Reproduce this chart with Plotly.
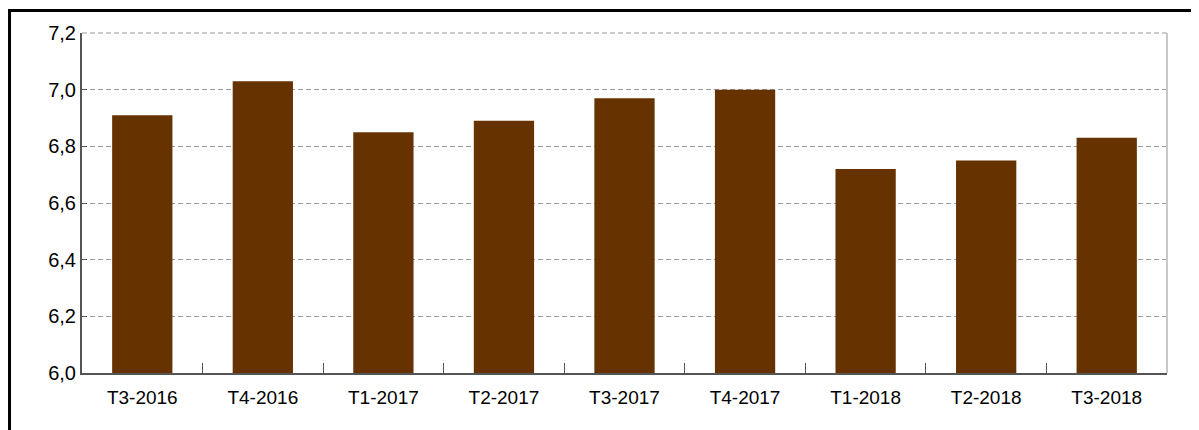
import plotly.graph_objects as go

trimestres = ["T3-2016", "T4-2016", "T1-2017", "T2-2017", "T3-2017",
              "T4-2017", "T1-2018", "T2-2018", "T3-2018"]
valores = [6.91, 7.03, 6.85, 6.89, 6.97, 7.00, 6.72, 6.75, 6.83]

BAR_COLOR = "#663300"
GRID_COLOR = "#9a9a9a"

fig = go.Figure()
fig.add_trace(go.Bar(
    x=trimestres,
    y=valores,
    marker=dict(color=BAR_COLOR, line=dict(width=0)),
    width=0.5,
))

# la página html añade 8px de margen, así que la figura es 8px más pequeña
fig.update_layout(
    width=1191,
    height=422,
    margin=dict(l=74, r=32, t=25, b=57),
    paper_bgcolor="white",
    plot_bgcolor="white",
    separators=",.",
    showlegend=False,
    font=dict(family="Liberation Sans, Arial, sans-serif", size=19, color="black"),
)

fig.update_xaxes(
    showgrid=False,
    showline=True,
    linecolor="#555555",
    linewidth=2,
    ticks="inside",
    tickson="boundaries",
    ticklen=10,
    tickcolor="#555555",
    tickwidth=1,
    ticklabelstandoff=6,
)

fig.update_yaxes(
    range=[6.0, 7.2],
    dtick=0.2,
    tickformat=".1f",
    tickfont=dict(size=20),
    showgrid=True,
    gridcolor=GRID_COLOR,
    griddash="5px,3px",
    gridwidth=1,
    showline=True,
    linecolor="#555555",
    linewidth=2,
    ticks="inside",
    ticklen=5,
    tickcolor="#555555",
    zeroline=False,
)

# línea de rejilla superior (7,2)
fig.add_shape(type="line", xref="paper", yref="paper",
              x0=0, x1=1, y0=1, y1=1,
              line=dict(color=GRID_COLOR, width=1, dash="5px,3px"))

# borde derecho gris claro del área de trazado
fig.add_shape(type="line", xref="paper", yref="paper",
              x0=1, x1=1, y0=0, y1=1,
              line=dict(color="#c8c8c8", width=2))

# marco negro exterior
fig.add_shape(type="rect", xref="paper", yref="paper",
              x0=-0.0668, x1=1.2, y0=-0.5, y1=1.066,
              line=dict(color="black", width=3))

fig.write_html("out.html")
